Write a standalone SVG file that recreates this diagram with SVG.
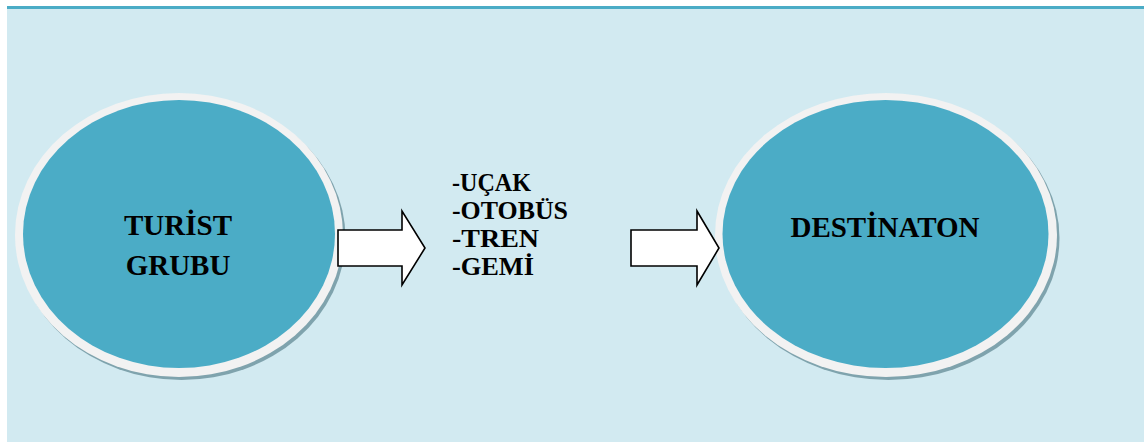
<svg xmlns="http://www.w3.org/2000/svg" width="1144" height="442" viewBox="0 0 1144 442">
  <defs>
    <style>
      .bg { fill: #D2EAF1; }
      .topline { fill: #4BACC6; }
      .shadow { fill: #7FA3AD; }
      .ring { fill: #F2F2F2; }
      .core { fill: #4BACC6; }
      .label { font-family: "Liberation Serif", "Times New Roman", serif; font-weight: bold; fill: #000; }
      .big { font-size: 29px; text-anchor: middle; }
      .list { font-size: 25px; }
      .arrow { fill: #FFFFFF; stroke: #000; stroke-width: 1.6; stroke-linejoin: miter; }
    </style>
  </defs>

  <rect class="bg" x="7" y="6" width="1137" height="436"/>
  <rect class="topline" x="7" y="6" width="1137" height="3"/>

  <g id="node-turist">
    <ellipse class="shadow" cx="181.5" cy="238" rx="164" ry="142"/>
    <ellipse class="ring" cx="179" cy="235" rx="164" ry="142"/>
    <ellipse class="core" cx="179" cy="234" rx="156" ry="134"/>
    <text class="label big" x="178" y="235">TURİST</text>
    <text class="label big" x="178" y="275">GRUBU</text>
  </g>

  <g id="node-ulasim">
    <text class="label list" x="452" y="191" textLength="79" lengthAdjust="spacingAndGlyphs">-UÇAK</text>
    <text class="label list" x="452" y="218.5" textLength="116" lengthAdjust="spacingAndGlyphs">-OTOBÜS</text>
    <text class="label list" x="452" y="246.5" textLength="87" lengthAdjust="spacingAndGlyphs">-TREN</text>
    <text class="label list" x="452" y="275" textLength="82" lengthAdjust="spacingAndGlyphs">-GEMİ</text>
  </g>

  <g id="node-destinaton">
    <ellipse class="shadow" cx="888.5" cy="238" rx="171" ry="142"/>
    <ellipse class="ring" cx="886" cy="235" rx="171" ry="142"/>
    <ellipse class="core" cx="885.5" cy="234" rx="163" ry="134"/>
    <text class="label big" x="885" y="237">DESTİNATON</text>
  </g>

  <g id="connectors">
    <path class="arrow" d="M338,230 L402,230 L402,211 L425,248 L402,285 L402,266 L338,266 Z"/>
    <path class="arrow" d="M631,230 L697,230 L697,211 L719,248 L697,285 L697,266 L631,266 Z"/>
  </g>
</svg>
